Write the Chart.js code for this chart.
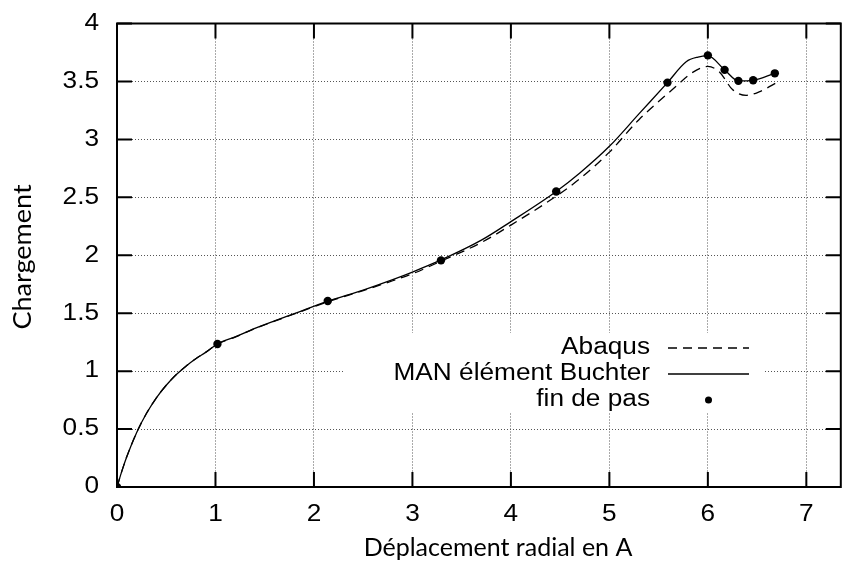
<!DOCTYPE html>
<html>
<head>
<meta charset="utf-8">
<script src="https://cdn.jsdelivr.net/npm/chart.js@4.4.1/dist/chart.umd.min.js"></script>
<style>
html, body { margin: 0; padding: 0; background: #fff; }
#wrap { width: 845px; height: 568px; }
</style>
</head>
<body>
<div id="wrap"><canvas id="chart"></canvas></div>
<script>
// Abaqus reference curve (dashed)
const abaqusX = [0, 0.05, 0.1, 0.2, 0.3, 0.4, 0.5, 0.6, 0.7, 0.8, 0.9, 1.02, 1.2, 1.4, 1.6, 1.8, 2.13, 2.5, 2.8, 3.0, 3.28, 3.7, 4.0, 4.46, 4.7, 5.0, 5.3, 5.64, 5.85, 6.0, 6.12, 6.25, 6.39, 6.52, 6.72];
const abaqusY = [0, 0.139, 0.263, 0.471, 0.636, 0.77, 0.878, 0.968, 1.043, 1.107, 1.162, 1.232, 1.294, 1.366, 1.431, 1.493, 1.595, 1.695, 1.78, 1.84, 1.945, 2.11, 2.26, 2.51, 2.66, 2.89, 3.17, 3.43, 3.58, 3.63, 3.58, 3.43, 3.38, 3.41, 3.50];

// MAN element Buchter curve (solid)
const manX = [0, 0.05, 0.1, 0.2, 0.3, 0.4, 0.5, 0.6, 0.7, 0.8, 0.9, 1.02, 1.2, 1.4, 1.6, 1.8, 2.13, 2.5, 2.8, 3.0, 3.28, 3.7, 4.0, 4.46, 4.7, 5.0, 5.3, 5.59, 5.78, 5.9, 6.0, 6.17, 6.31, 6.46, 6.68];
const manY = [0, 0.139, 0.263, 0.471, 0.636, 0.77, 0.878, 0.968, 1.043, 1.107, 1.162, 1.234, 1.296, 1.369, 1.434, 1.496, 1.60, 1.70, 1.79, 1.855, 1.955, 2.13, 2.29, 2.55, 2.71, 2.94, 3.22, 3.49, 3.67, 3.71, 3.72, 3.60, 3.505, 3.51, 3.57];

// fin de pas (end of step markers)
const stepX = [0, 1.02, 2.14, 3.29, 4.46, 5.59, 6.0, 6.17, 6.31, 6.46, 6.68];
const stepY = [0, 1.234, 1.605, 1.956, 2.55, 3.49, 3.725, 3.60, 3.505, 3.51, 3.57];

const xTicks = [0, 1, 2, 3, 4, 5, 6, 7];
const yTicks = [0, 0.5, 1, 1.5, 2, 2.5, 3, 3.5, 4];

const seriesNames = ['Abaqus', 'MAN élément Buchter', 'fin de pas'];
const xTitle = 'Déplacement radial en A';
const yTitle = 'Chargement';

const pts = (xs, ys) => xs.map((x, i) => ({ x: x, y: ys[i] }));
const labelFont = '23px "Liberation Sans", Arial, sans-serif';
const stretch = 1.14;

function wideText(ctx, txt, x, y, align) {
    ctx.save();
    ctx.translate(x, y);
    ctx.scale(stretch, 1);
    ctx.textAlign = align;
    ctx.fillText(txt, 0, 0);
    ctx.restore();
}

// frame, inward ticks on all four sides, tick labels, axis titles, legend
const gnuFrame = {
    id: 'gnuFrame',
    beforeDatasetsDraw(chart) {
        const { ctx, chartArea: a, scales } = chart;
        ctx.save();
        ctx.strokeStyle = '#000';
        ctx.lineWidth = 2;
        ctx.strokeRect(a.left, a.top, a.right - a.left, a.bottom - a.top);
        const tl = 15;
        ctx.beginPath();
        scales.x.ticks.forEach(t => {
            const px = scales.x.getPixelForValue(t.value);
            ctx.moveTo(px, a.bottom); ctx.lineTo(px, a.bottom - tl);
            ctx.moveTo(px, a.top); ctx.lineTo(px, a.top + tl);
        });
        scales.y.ticks.forEach(t => {
            const py = scales.y.getPixelForValue(t.value);
            ctx.moveTo(a.left, py); ctx.lineTo(a.left + tl, py);
            ctx.moveTo(a.right, py); ctx.lineTo(a.right - tl, py);
        });
        ctx.stroke();

        // tick labels
        ctx.fillStyle = '#000';
        ctx.font = labelFont;
        ctx.textBaseline = 'middle';
        scales.x.ticks.forEach(t => {
            wideText(ctx, String(t.value), scales.x.getPixelForValue(t.value), a.bottom + 28, 'center');
        });
        scales.y.ticks.forEach(t => {
            wideText(ctx, String(t.value), a.left - 18, scales.y.getPixelForValue(t.value), 'right');
        });
        ctx.restore();
    },
    afterDraw(chart) {
        const { ctx } = chart;
        ctx.save();
        ctx.fillStyle = '#000';
        ctx.textAlign = 'center';
        ctx.textBaseline = 'middle';
        ctx.font = '25px Lato, sans-serif';
        ctx.fillText(xTitle, 498, 548);
        ctx.save();
        ctx.translate(23, 257);
        ctx.rotate(-Math.PI / 2);
        ctx.scale(1.08, 1);
        ctx.fillText(yTitle, 0, 0);
        ctx.restore();

        // legend
        ctx.fillStyle = '#fff';
        ctx.fillRect(345, 333, 420, 80);
        const rows = [348, 374, 400];
        ctx.font = labelFont;
        ctx.fillStyle = '#000';
        ctx.strokeStyle = '#000';
        rows.forEach((y, i) => {
            wideText(ctx, seriesNames[i], 650, y, 'right');
            ctx.lineWidth = 1.3;
            if (i === 0) {
                ctx.setLineDash([9, 6]);
                ctx.beginPath(); ctx.moveTo(668, y); ctx.lineTo(749, y); ctx.stroke();
                ctx.setLineDash([]);
            } else if (i === 1) {
                ctx.beginPath(); ctx.moveTo(668, y); ctx.lineTo(749, y); ctx.stroke();
            } else {
                ctx.beginPath(); ctx.arc(708.5, y, 3.5, 0, Math.PI * 2); ctx.fill();
            }
        });
        ctx.restore();
    }
};

new Chart(document.getElementById('chart'), {
    type: 'scatter',
    data: {
        datasets: [{
            label: seriesNames[0],
            data: pts(abaqusX, abaqusY),
            showLine: true,
            borderColor: '#000',
            borderWidth: 1.3,
            borderDash: [9, 6],
            pointRadius: 0,
            cubicInterpolationMode: 'monotone'
        }, {
            label: seriesNames[1],
            data: pts(manX, manY),
            showLine: true,
            borderColor: '#000',
            borderWidth: 1.3,
            pointRadius: 0,
            cubicInterpolationMode: 'monotone'
        }, {
            label: seriesNames[2],
            data: pts(stepX, stepY),
            showLine: false,
            pointRadius: 4.2,
            pointBackgroundColor: '#000',
            pointBorderWidth: 0
        }]
    },
    options: {
        responsive: true,
        maintainAspectRatio: false,
        animation: false,
        events: [],
        layout: { padding: { top: 23.5, right: 3, left: 0, bottom: 0 } },
        plugins: { legend: { display: false }, tooltip: { enabled: false } },
        scales: {
            x: {
                type: 'linear',
                min: 0,
                max: 7.35,
                afterBuildTicks: s => { s.ticks = xTicks.map(v => ({ value: v })); },
                afterFit: s => { s.height = 81; },
                ticks: { display: false },
                grid: { color: '#555', lineWidth: 1, drawTicks: false },
                border: { display: false, dash: [1, 2] }
            },
            y: {
                type: 'linear',
                min: 0,
                max: 4,
                afterBuildTicks: s => { s.ticks = yTicks.map(v => ({ value: v })); },
                afterFit: s => { s.width = 117; },
                ticks: { display: false },
                grid: { color: '#555', lineWidth: 1, drawTicks: false },
                border: { display: false, dash: [1, 2] }
            }
        }
    },
    plugins: [gnuFrame]
});
</script>
</body>
</html>
